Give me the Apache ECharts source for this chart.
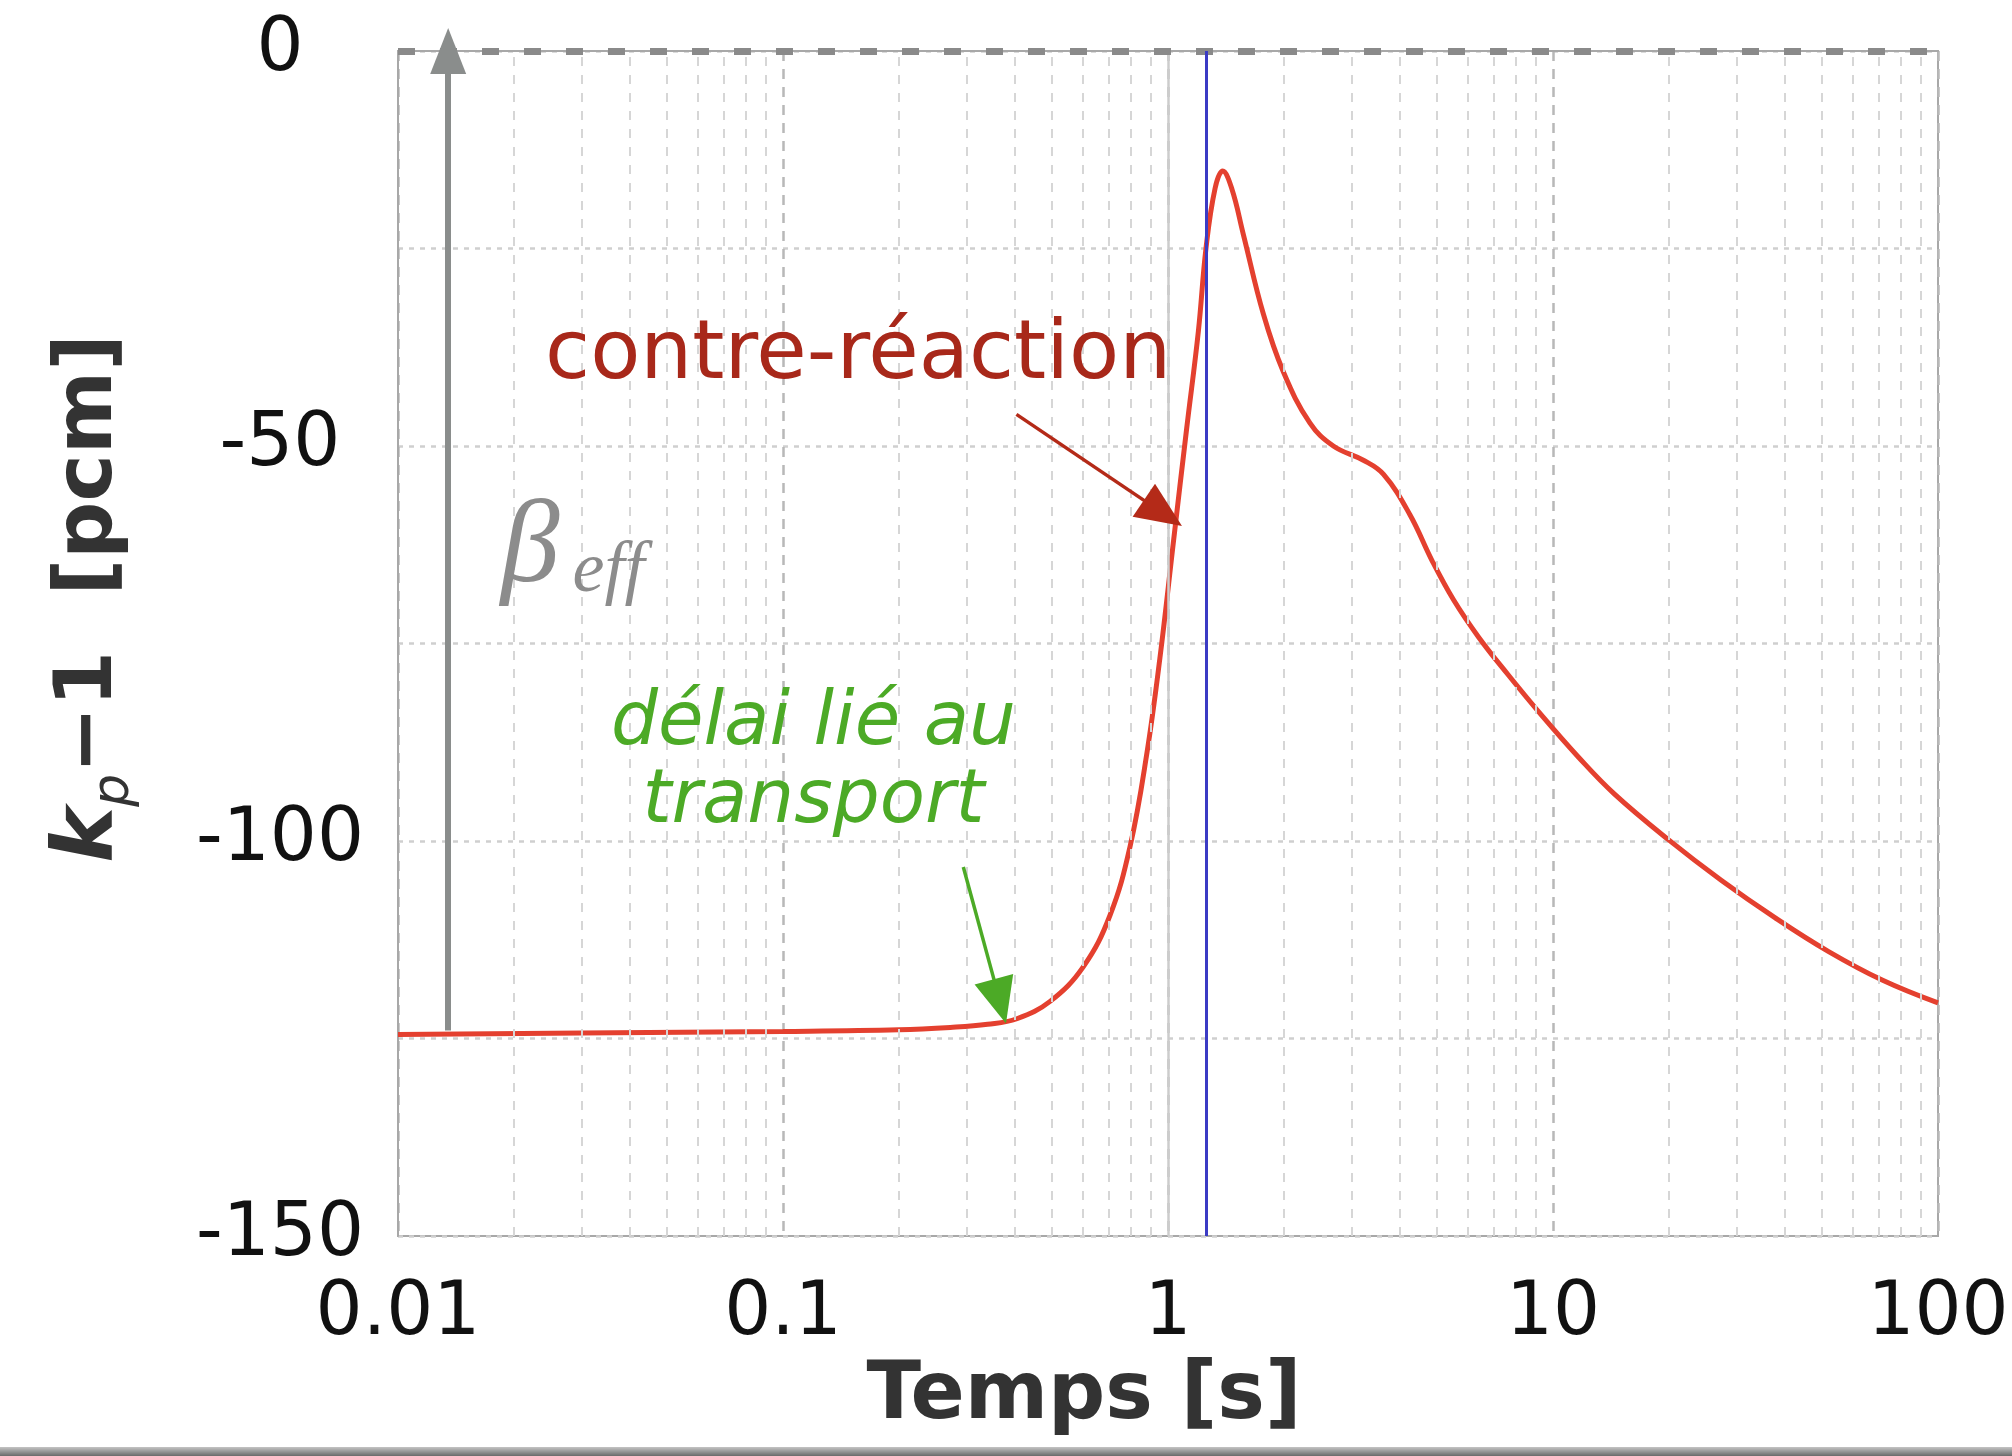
<!DOCTYPE html>
<html>
<head>
<meta charset="utf-8">
<title>Contre-réaction</title>
<script src="https://cdn.jsdelivr.net/npm/echarts@6/dist/echarts.min.js"></script>
<style>
  html, body { margin: 0; padding: 0; background: #fff; }
  #chart { width: 2012px; height: 1456px; }
</style>
</head>
<body>
<div id="chart"></div>
<script>
// time [s] and kp-1 [pcm]
const timeS = [0.01, 0.03, 0.1, 0.2, 0.272, 0.34, 0.405, 0.494, 0.603, 0.707, 0.797, 0.88,
  0.953, 1.032, 1.118, 1.199, 1.255, 1.325, 1.387, 1.464, 1.569, 1.769, 1.993, 2.338, 2.688,
  3.217, 3.63, 4.25, 4.85, 5.52, 6.41, 7.6, 9.42, 11.65, 14.4, 19.9, 27.4, 37.7, 52, 71.6, 100]
const kpPcm = [-124.5, -124.3, -124.1, -123.9, -123.6, -123.2, -122.5, -120.3, -115.9, -109.4, -100.7, -89.1,
  -76.8, -62.3, -47.8, -35.5, -25, -17.4, -15.2, -17.4, -23.2, -33.3, -40.6, -47.1, -50,
  -51.8, -53.6, -58.7, -64.5, -69.5, -74.2, -78.8, -84.3, -89.4, -94.0, -99.8, -105.0, -109.7, -114, -117.6, -120.5]

const xRange = [0.01, 100]
const yRange = [-150, 0]
const yStep = 25
const minorMultiples = [2, 3, 4, 5, 6, 7, 8, 9]
const decades = [0.01, 0.1, 1, 10]

const blueLineT = 1.259
const betaArrowT = 0.0135
const betaArrowRange = [-124, 0]
const feedbackArrow = [[0.404, -46], [0.97, -58.5]]
const delayArrow = [[0.294, -103.3], [0.366, -120.3]]

const feedbackLabelAt = [0.0241, -38.75]
const delayLabelAt = [0.12, -90.2]
const betaLabelAt = [0.0185, -63.2]
const effLabelAt = [0.0284, -66]

const chart = echarts.init(document.getElementById('chart'))

const minorLines = []
decades.forEach(d => {
  minorMultiples.forEach(m => {
    minorLines.push({ xAxis: d * m })
  })
})

const gridStyle = {
  minor: { color: '#d6d6d6', width: 2, type: [9, 9] },
  decade: { color: '#b8b8b8', width: 2.5, type: [10, 8] }
}

chart.setOption({
  animation: false,
  backgroundColor: '#ffffff',
  grid: {
    left: 398,
    right: 74,
    top: 51,
    bottom: 220,
    show: true,
    borderColor: '#a8a8a8',
    borderWidth: 2,
    outerBoundsMode: 'none'
  },
  xAxis: {
    type: 'log',
    logBase: 10,
    min: xRange[0],
    max: xRange[1],
    name: 'Temps [s]',
    nameLocation: 'middle',
    nameGap: 118,
    nameTextStyle: {
      fontFamily: 'DejaVu Sans',
      fontWeight: 'bold',
      fontSize: 80,
      color: '#333',
      padding: [0, 168, 0, 0]
    },
    axisLine: { lineStyle: { color: '#a8a8a8', width: 2 } },
    axisTick: { show: false },
    axisLabel: {
      fontFamily: 'DejaVu Sans',
      fontSize: 74,
      color: '#111',
      margin: 42,
      formatter: v => String(+v.toPrecision(3))
    },
    splitLine: { show: true, lineStyle: gridStyle.decade },
    minorTick: { show: false },
    minorSplitLine: { show: false }
  },
  yAxis: {
    type: 'value',
    min: yRange[0],
    max: yRange[1],
    interval: yStep,
    name: '{k|k}{p|p}{r|−1  [pcm]}',
    nameLocation: 'middle',
    nameRotate: 90,
    nameGap: 258,
    nameTextStyle: {
      padding: [0, 0, 0, 90],
      rich: {
        k: { fontFamily: 'DejaVu Sans', fontStyle: 'italic', fontWeight: 'bold', fontSize: 84, color: '#333', lineHeight: 100 },
        p: { fontFamily: 'DejaVu Sans', fontStyle: 'italic', fontSize: 52, color: '#333', lineHeight: 50, verticalAlign: 'bottom' },
        r: { fontFamily: 'DejaVu Sans', fontWeight: 'bold', fontSize: 80, color: '#333', lineHeight: 100 }
      }
    },
    axisLine: { show: true, lineStyle: { color: '#a8a8a8', width: 2 } },
    axisTick: { show: false },
    axisLabel: {
      fontFamily: 'DejaVu Sans',
      fontSize: 74,
      color: '#111',
      align: 'center',
      margin: 118,
      padding: [12, 0, 0, 0],
      formatter: v => (v % 50 === 0 ? String(v) : '')
    },
    splitLine: { show: true, lineStyle: { color: '#cfcfcf', width: 2.5, type: [5, 6] } }
  },
  series: [
    {
      // background grid: minor decades, line at 1, dashed zero line
      type: 'line',
      z: 1,
      silent: true,
      data: [],
      markLine: {
        silent: true,
        symbol: 'none',
        label: { show: false },
        lineStyle: gridStyle.minor,
        data: minorLines.concat([
          { xAxis: 1, lineStyle: { color: '#cccccc', width: 2.5, type: 'solid' } },
          { yAxis: 0, lineStyle: { color: '#8a8a8a', width: 7, type: [17, 25] } }
        ])
      }
    },
    {
      name: 'kp-1',
      type: 'line',
      z: 3,
      data: timeS.map((t, i) => [t, kpPcm[i]]),
      smooth: 0.4,
      showSymbol: false,
      lineStyle: { color: '#e4402f', width: 5 }
    },
    {
      // annotations: blue line and arrows
      type: 'line',
      z: 5,
      silent: true,
      data: [],
      markLine: {
        silent: true,
        label: { show: false },
        symbol: 'none',
        data: [
          { xAxis: blueLineT, lineStyle: { color: '#3b3bc4', width: 3, type: 'solid' } },
          [
            { coord: [betaArrowT, betaArrowRange[0]], symbol: 'none', lineStyle: { color: '#8a8d8c', width: 6, type: 'solid' } },
            { coord: [betaArrowT, betaArrowRange[1]], symbol: 'triangle', symbolSize: [36, 46] }
          ],
          [
            { coord: feedbackArrow[0], symbol: 'none', lineStyle: { color: '#b42a18', width: 3.5, type: 'solid' } },
            { coord: feedbackArrow[1], symbol: 'triangle', symbolSize: [40, 46] }
          ],
          [
            { coord: delayArrow[0], symbol: 'none', lineStyle: { color: '#4caa26', width: 3.5, type: 'solid' } },
            { coord: delayArrow[1], symbol: 'triangle', symbolSize: [40, 46] }
          ]
        ]
      }
    }
  ]
})

function px(p) {
  return chart.convertToPixel({ gridIndex: 0 }, p)
}

const fbPos = px(feedbackLabelAt)
const dlPos = px(delayLabelAt)
const bPos = px(betaLabelAt)
const ePos = px(effLabelAt)

chart.setOption({
  graphic: [
    {
      type: 'text', x: fbPos[0], y: fbPos[1], z: 10,
      style: {
        text: 'contre-réaction',
        fontFamily: 'DejaVu Sans', fontSize: 82, fill: '#a8281a',
        align: 'left', verticalAlign: 'middle'
      }
    },
    {
      type: 'text', x: dlPos[0], y: dlPos[1], z: 10,
      style: {
        text: 'délai lié au\ntransport',
        fontFamily: 'DejaVu Sans', fontStyle: 'italic', fontSize: 74, lineHeight: 78,
        fill: '#4caa26', align: 'center', verticalAlign: 'middle'
      }
    },
    {
      type: 'text', x: bPos[0], y: bPos[1], z: 10,
      style: {
        text: 'β',
        fontFamily: 'Liberation Serif', fontStyle: 'italic', fontSize: 118, fill: '#8c8c8c',
        align: 'left', verticalAlign: 'middle'
      }
    },
    {
      type: 'text', x: ePos[0], y: ePos[1], z: 10,
      style: {
        text: 'eff',
        fontFamily: 'Liberation Serif', fontStyle: 'italic', fontSize: 72, fill: '#8c8c8c',
        align: 'left', verticalAlign: 'middle'
      }
    },
    {
      type: 'rect', left: 0, bottom: 0, z: 10,
      shape: { width: 2012, height: 9 },
      style: {
        fill: new echarts.graphic.LinearGradient(0, 0, 0, 1, [
          { offset: 0, color: '#c4c4c4' },
          { offset: 1, color: '#6a6a6a' }
        ])
      }
    }
  ]
})
</script>
</body>
</html>
